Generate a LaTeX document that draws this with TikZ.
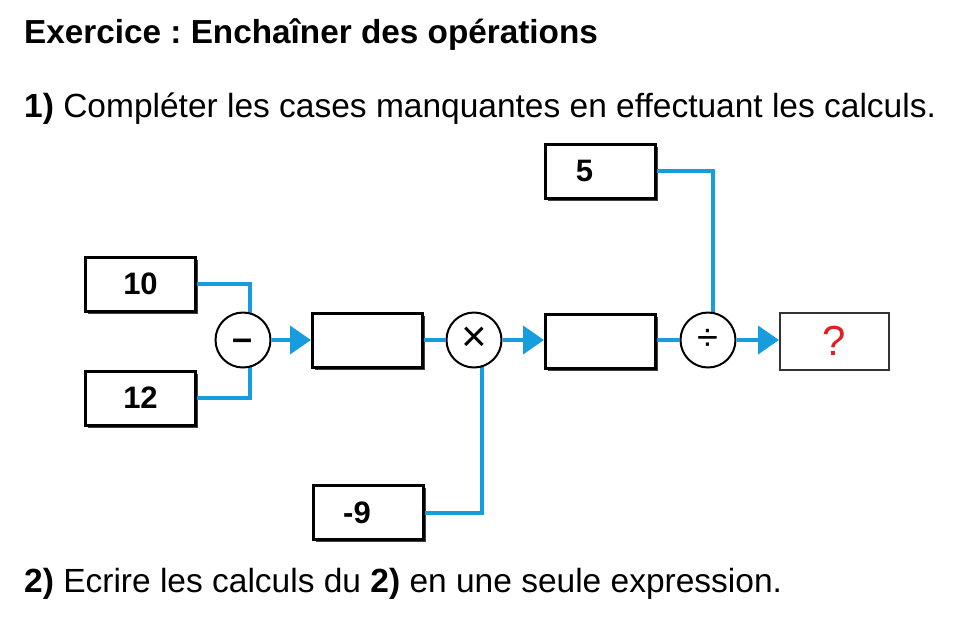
\documentclass[tikz,border=0pt]{standalone}
\usepackage{fontspec}
\setmainfont{Liberation Sans}
\usetikzlibrary{arrows.meta,shadows,calc}
\definecolor{lineblue}{RGB}{23,157,221}
\definecolor{qred}{RGB}{230,30,36}
\frenchspacing
\tikzset{
  valbox/.style={draw=black, line width=3pt, fill=white, minimum width=110pt, minimum height=54pt,
     inner sep=0pt, font=\fontsize{31}{34}\selectfont\bfseries,
     drop shadow={shadow xshift=2.5pt, shadow yshift=-2.5pt, fill=black!75, opacity=1}},
  resbox/.style={draw=black!80, line width=2pt, fill=white, minimum width=109pt, minimum height=57pt,
     inner sep=0pt, font=\fontsize{42}{44}\selectfont, text=qred},
  opcirc/.style={circle, draw=black, line width=2pt, fill=white, minimum size=55pt, inner sep=0pt},
  wire/.style={draw=lineblue, line width=4pt},
  arr/.style={wire, -{Triangle[length=21pt, width=28pt]}},
  txt/.style={anchor=base west, inner sep=0pt, font=\fontsize{33.5}{38}\selectfont},
}
\begin{document}
\begin{tikzpicture}[x=1pt, y=-1pt]
\useasboundingbox (0,0) rectangle (959,641);
% texts
\node[txt, font=\fontsize{33.3}{38}\selectfont\bfseries] (title) at (24,43) {Exercice : Enchaîner des opérations};
\node[txt] (q1) at (24,117) {\textbf{1)} Compléter les cases manquantes en effectuant les calculs.};
\node[txt] (q2) at (24,592) {\textbf{2)} Ecrire les calculs du \textbf{2)} en une seule expression.};
% boxes
\node[valbox] (b10) at (140.5,284) {10};
\node[valbox] (b12) at (140.5,398) {12};
\node[valbox] (b1) at (367.5,340.5) {};
\node[valbox] (bm9) at (368,512.5) {\hspace*{-22pt}-9};
\node[valbox] (b5) at (600.5,171) {\hspace*{-32pt}5};
\node[valbox] (b2) at (600.5,341) {};
\node[resbox] (bq) at (834.5,341) {?};
% junction coordinates
\coordinate (jm) at (250,340);
\coordinate (jt) at (481.5,340);
\coordinate (jd) at (712.5,340);
% wires into operators
\draw[wire] (b10.east) -| (jm);
\draw[wire] (b12.east) -| (jm);
\draw[wire] (bm9.east) -| (jt);
\draw[wire] (b5.east) -| (jd);
% operators
\node[opcirc] (minus) at (243,340) {\fontsize{36}{36}\selectfont\bfseries\raisebox{-10pt}[0pt][0pt]{–}};
\node[opcirc] (times) at (474,340) {\fontsize{44}{44}\selectfont\raisebox{1pt}{×}};
\node[opcirc] (div) at (708,340) {\fontsize{38}{38}\selectfont ÷};
% chain
\draw[arr] (minus.east) -- (b1.west |- minus.east);
\draw[wire] (b1.east |- times.west) -- (times.west);
\draw[arr] (times.east) -- (b2.west |- times.east);
\draw[wire] (b2.east |- div.west) -- (div.west);
\draw[arr] (div.east) -- (bq.west |- div.east);
\end{tikzpicture}
\end{document}
